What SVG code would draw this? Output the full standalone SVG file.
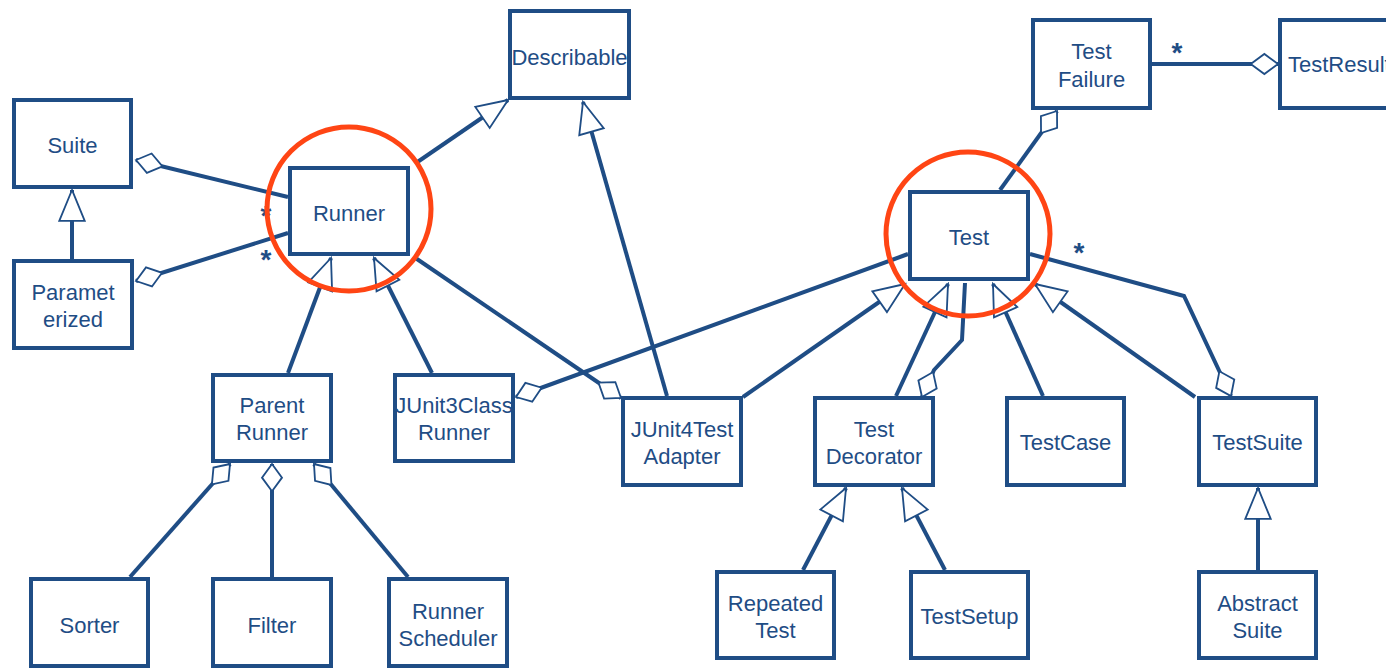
<svg xmlns="http://www.w3.org/2000/svg" width="1386" height="669" viewBox="0 0 1386 669">
  <style>
    .box { fill: #ffffff; stroke: #1f4d85; stroke-width: 4; }
    .lbl { font-family: "Liberation Sans", Arial, sans-serif; font-size: 22px; fill: #1f4d85; text-anchor: middle; }
    .lbl-start { font-family: "Liberation Sans", Arial, sans-serif; font-size: 22px; fill: #1f4d85; text-anchor: start; }
    .mult { font-family: "Liberation Sans", Arial, sans-serif; font-size: 28px; font-weight: bold; fill: #1f4d85; text-anchor: middle; }
    .edge { fill: none; stroke: #1f4d85; stroke-width: 4; stroke-linejoin: miter; }
    .gen { marker-end: url(#tri); }
    .agg { marker-end: url(#dia); }
    .focus { fill: none; stroke: #ff4514; stroke-width: 5; }
  </style>
  <defs>
    <!-- open triangle: inheritance -->
    <marker id="tri" markerUnits="userSpaceOnUse" markerWidth="40" markerHeight="40" refX="0" refY="0" orient="auto" overflow="visible" viewBox="-40 -20 44 40">
      <path d="M0,0 L-34,-14 L-34,14 Z" fill="#ffffff" stroke="#1f4d85" stroke-width="2" stroke-linejoin="miter"/>
    </marker>
    <!-- open diamond: aggregation -->
    <marker id="dia" markerUnits="userSpaceOnUse" markerWidth="40" markerHeight="40" refX="0" refY="0" orient="auto" overflow="visible" viewBox="-40 -20 44 40">
      <path d="M0,0 L-15,-11 L-30,0 L-15,11 Z" fill="#ffffff" stroke="#1f4d85" stroke-width="2" stroke-linejoin="miter"/>
    </marker>
  </defs>

  <rect width="1386" height="669" fill="#ffffff"/>

  <!-- classes -->
  <g id="describable"><rect class="box" x="510" y="11" width="119" height="87"/><text class="lbl" x="569.5" y="65">Describable</text></g>
  <g id="suite"><rect class="box" x="14" y="100" width="117" height="87"/><text class="lbl" x="72.5" y="153">Suite</text></g>
  <g id="runner"><rect class="box" x="290" y="168" width="118" height="86"/><text class="lbl" x="349" y="221">Runner</text></g>
  <g id="parameterized"><rect class="box" x="14" y="261" width="118" height="87"/><text class="lbl" x="73" y="300">Paramet</text><text class="lbl" x="73" y="327">erized</text></g>
  <g id="test-failure"><rect class="box" x="1033" y="20" width="117" height="88"/><text class="lbl" x="1091.5" y="59">Test</text><text class="lbl" x="1091.5" y="87">Failure</text></g>
  <g id="test-result"><rect class="box" x="1280" y="20" width="130" height="88"/><text class="lbl-start" x="1288" y="72">TestResult</text></g>
  <g id="test"><rect class="box" x="910" y="192" width="118" height="87"/><text class="lbl" x="969" y="245">Test</text></g>
  <g id="parent-runner"><rect class="box" x="213" y="375" width="118" height="86"/><text class="lbl" x="272" y="413">Parent</text><text class="lbl" x="272" y="440">Runner</text></g>
  <g id="junit3-class-runner"><rect class="box" x="395" y="375" width="118" height="86"/><text class="lbl" x="454" y="413">JUnit3Class</text><text class="lbl" x="454" y="440">Runner</text></g>
  <g id="junit4-test-adapter"><rect class="box" x="623" y="398" width="118" height="87"/><text class="lbl" x="682" y="437">JUnit4Test</text><text class="lbl" x="682" y="464">Adapter</text></g>
  <g id="test-decorator"><rect class="box" x="815" y="398" width="118" height="87"/><text class="lbl" x="874" y="437">Test</text><text class="lbl" x="874" y="464">Decorator</text></g>
  <g id="test-case"><rect class="box" x="1007" y="398" width="117" height="87"/><text class="lbl" x="1065.5" y="450">TestCase</text></g>
  <g id="test-suite"><rect class="box" x="1199" y="398" width="117" height="87"/><text class="lbl" x="1257.5" y="450">TestSuite</text></g>
  <g id="sorter"><rect class="box" x="31" y="579" width="117" height="87"/><text class="lbl" x="89.5" y="633">Sorter</text></g>
  <g id="filter"><rect class="box" x="213" y="579" width="118" height="87"/><text class="lbl" x="272" y="633">Filter</text></g>
  <g id="runner-scheduler"><rect class="box" x="389" y="579" width="118" height="87"/><text class="lbl" x="448" y="619">Runner</text><text class="lbl" x="448" y="646">Scheduler</text></g>
  <g id="repeated-test"><rect class="box" x="717" y="572" width="117" height="86"/><text class="lbl" x="775.5" y="611">Repeated</text><text class="lbl" x="775.5" y="638">Test</text></g>
  <g id="test-setup"><rect class="box" x="911" y="572" width="117" height="86"/><text class="lbl" x="969.5" y="624">TestSetup</text></g>
  <g id="abstract-suite"><rect class="box" x="1199" y="572" width="117" height="86"/><text class="lbl" x="1257.5" y="611">Abstract</text><text class="lbl" x="1257.5" y="638">Suite</text></g>

  <!-- relationships -->
  <g id="connectors">
    <path class="edge agg" d="M288,197 L136,160"/>
    <path class="edge agg" d="M288,233 L136,281"/>
    <path class="edge gen" d="M72,259 L72,190"/>
    <path class="edge gen" d="M416,163 L508,100"/>
    <path class="edge gen" d="M667,396 L583,102"/>
    <path class="edge gen" d="M288,373 L331,258"/>
    <path class="edge gen" d="M432,373 L374,258"/>
    <path class="edge agg" d="M414,257 L621,398"/>
    <path class="edge agg" d="M908,254 L516,397"/>
    <path class="edge gen" d="M743,397 L905,284"/>
    <path class="edge gen" d="M896,396 L948,284"/>
    <path class="edge agg" d="M965,283 L962,340 L934,370 L922,397"/>
    <path class="edge gen" d="M1043,396 L993,284"/>
    <path class="edge gen" d="M1195,397 L1035,284"/>
    <path class="edge agg" d="M1030,254 L1184,296 L1231,396"/>
    <path class="edge agg" d="M1000,190 L1057,111"/>
    <path class="edge agg" d="M1152,64 L1278,64"/>
    <path class="edge agg" d="M130,577 L230,464"/>
    <path class="edge agg" d="M272,577 L272,464"/>
    <path class="edge agg" d="M408,577 L314,464"/>
    <path class="edge gen" d="M803,570 L846,488"/>
    <path class="edge gen" d="M945,570 L902,488"/>
    <path class="edge gen" d="M1258,570 L1258,488"/>
  </g>

  <!-- multiplicities -->
  <g id="multiplicities">
    <text class="mult" x="266" y="225">*</text>
    <text class="mult" x="266" y="269">*</text>
    <text class="mult" x="1079" y="262">*</text>
    <text class="mult" x="1177" y="62">*</text>
  </g>

  <!-- highlight rings -->
  <g id="highlights">
    <circle class="focus" cx="349" cy="209" r="82"/>
    <circle class="focus" cx="968" cy="234" r="82"/>
  </g>
</svg>
